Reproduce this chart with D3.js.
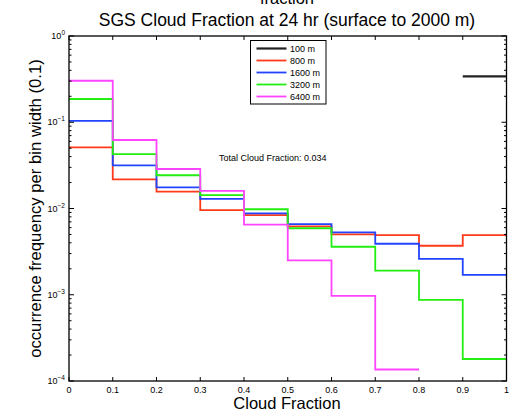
<!DOCTYPE html>
<html>
<head>
<meta charset="utf-8">
<script src="https://cdn.jsdelivr.net/npm/d3@7"></script>
<style>
  body { margin: 0; background: #fff; }
  svg { display: block; font-family: "Liberation Sans", Arial, sans-serif; }
</style>
</head>
<body>
<div id="chart"></div>
<script>
// bin edges of the cloud fraction histogram
const binEdges = [0, 0.1, 0.2, 0.3, 0.4, 0.5, 0.6, 0.7, 0.8, 0.9, 1.0];
const seriesNames = ["100 m", "800 m", "1600 m", "3200 m", "6400 m"];
const seriesColors = ["#222222", "#ff3a1a", "#2244ff", "#22ee11", "#ff44ff"];

// occurrence frequency per bin (null = empty bin, not drawn on log axis)
const v100 = [null, null, null, null, null, null, null, null, null, 0.34];
const v800 = [0.051, 0.0218, 0.0157, 0.0096, 0.0084, 0.0062, 0.0050, 0.0049, 0.0037, 0.0049];
const v1600 = [0.104, 0.0317, 0.0176, 0.0129, 0.0088, 0.0066, 0.0053, 0.0039, 0.0026, 0.0017];
const v3200 = [0.186, 0.0428, 0.0243, 0.0143, 0.0098, 0.0059, 0.0036, 0.0019, 0.00087, 0.00018];
const v6400 = [0.303, 0.0623, 0.0287, 0.0160, 0.0065, 0.0025, 0.00097, 0.000136, null, null];
const seriesValues = [v100, v800, v1600, v3200, v6400];

const xTicks = [0, 0.1, 0.2, 0.3, 0.4, 0.5, 0.6, 0.7, 0.8, 0.9, 1];
const yTickExps = [0, -1, -2, -3, -4];

const width = 524, height = 412;
const plotL = 69, plotR = 506.5, plotT = 36, plotB = 381;

const svg = d3.select("#chart").append("svg")
  .attr("width", width)
  .attr("height", height);

const x = d3.scaleLinear().domain([0, 1]).range([plotL, plotR]);
const y = d3.scaleLog().domain([1e-4, 1]).range([plotB, plotT]);

// step lines
const line = d3.line()
  .defined(d => d.v != null)
  .x(d => x(d.x))
  .y(d => y(d.v))
  .curve(d3.curveStepAfter);

seriesValues.forEach((vals, s) => {
  const pts = [];
  vals.forEach((v, i) => {
    pts.push({ x: binEdges[i], v: v });
    // close the last step of a run at the bin's right edge
    if (v != null && (i === vals.length - 1 || vals[i + 1] == null)) {
      pts.push({ x: binEdges[i + 1], v: v });
    }
  });
  svg.append("path")
    .datum(pts)
    .attr("d", line)
    .attr("fill", "none")
    .attr("stroke", seriesColors[s])
    .attr("stroke-width", s === 0 ? 2.2 : 1.8);
});

// ticks (inward, on all four sides)
const ax = svg.append("g").attr("stroke", "#000").attr("stroke-width", 1);
xTicks.forEach(t => {
  ax.append("line").attr("x1", x(t)).attr("x2", x(t)).attr("y1", plotB).attr("y2", plotB - 4);
  ax.append("line").attr("x1", x(t)).attr("x2", x(t)).attr("y1", plotT).attr("y2", plotT + 4);
});
for (let e = -4; e <= 0; e++) {
  const yy = y(Math.pow(10, e));
  ax.append("line").attr("x1", plotL).attr("x2", plotL + 5).attr("y1", yy).attr("y2", yy);
  ax.append("line").attr("x1", plotR).attr("x2", plotR - 5).attr("y1", yy).attr("y2", yy);
  if (e < 0) {
    for (let m = 2; m <= 9; m++) {
      const ym = y(m * Math.pow(10, e));
      ax.append("line").attr("x1", plotL).attr("x2", plotL + 2.5).attr("y1", ym).attr("y2", ym);
      ax.append("line").attr("x1", plotR).attr("x2", plotR - 2.5).attr("y1", ym).attr("y2", ym);
    }
  }
}

// frame
svg.append("rect")
  .attr("x", plotL).attr("y", plotT)
  .attr("width", plotR - plotL).attr("height", plotB - plotT)
  .attr("fill", "none").attr("stroke", "#000").attr("stroke-width", 1.3);

// x tick labels
svg.append("g").selectAll("text")
  .data(xTicks)
  .join("text")
  .attr("x", d => x(d))
  .attr("y", plotB + 12)
  .attr("text-anchor", "middle")
  .attr("font-size", 9)
  .text(d => d3.format("~g")(d));

// y tick labels 10^e
const yl = svg.append("g");
yTickExps.forEach(e => {
  const t = yl.append("text")
    .attr("x", plotL - 4)
    .attr("y", y(Math.pow(10, e)) + 3)
    .attr("text-anchor", "end")
    .attr("font-size", 9);
  t.append("tspan").text("10");
  t.append("tspan").attr("dy", -4).attr("font-size", 6.5)
    .text(e === 0 ? "0" : "\u2212" + Math.abs(e));
});

// titles (the top line of a two-line title is cut off in the original)
svg.append("text")
  .attr("x", 287).attr("y", 4)
  .attr("text-anchor", "middle").attr("font-size", 16.5)
  .text("fraction");
svg.append("text")
  .attr("x", 287).attr("y", 26)
  .attr("text-anchor", "middle").attr("font-size", 17.5)
  .text("SGS Cloud Fraction at 24 hr (surface to 2000 m)");
svg.append("text")
  .attr("x", 287).attr("y", 409)
  .attr("text-anchor", "middle").attr("font-size", 16.5)
  .text("Cloud Fraction");
svg.append("text")
  .attr("transform", "translate(41," + (plotT + plotB) / 2 + ") rotate(-90)")
  .attr("text-anchor", "middle").attr("font-size", 16.7)
  .text("occurrence frequency per bin width (0.1)");

// annotation
svg.append("text")
  .attr("x", 219).attr("y", 161)
  .attr("font-size", 9)
  .text("Total Cloud Fraction: 0.034");

// legend
const lg = svg.append("g");
lg.append("rect")
  .attr("x", 250.5).attr("y", 40.5)
  .attr("width", 75.5).attr("height", 63.5)
  .attr("fill", "#fff").attr("stroke", "#000").attr("stroke-width", 1);
seriesNames.forEach((name, i) => {
  const yy = 48.5 + i * 12;
  lg.append("line")
    .attr("x1", 256.5).attr("x2", 286.5).attr("y1", yy).attr("y2", yy)
    .attr("stroke", seriesColors[i]).attr("stroke-width", i === 0 ? 2.2 : 1.8);
  lg.append("text")
    .attr("x", 290).attr("y", yy + 3.2)
    .attr("font-size", 9)
    .text(name);
});
</script>
</body>
</html>
